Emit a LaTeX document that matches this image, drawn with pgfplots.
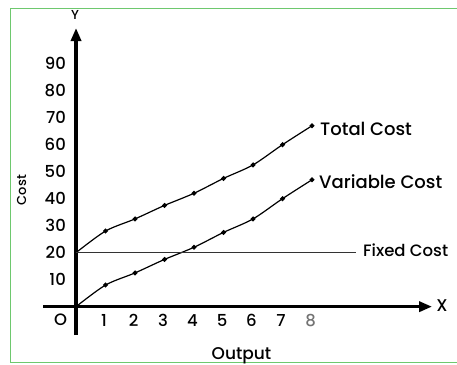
\documentclass[border=0pt]{standalone}
\usepackage{fontspec}
\setmainfont{Poppins}[UprightFont={* Medium}]
\usepackage{pgfplots}
\usepackage{pgfplotstable}
\pgfplotsset{compat=1.18}
\usetikzlibrary{arrows.meta}

\definecolor{framegreen}{RGB}{110,200,110}

% output, total cost, variable cost
\pgfplotstableread{
x  tc   vc
0  20   0
1  28   8
2  32.5 12.5
3  37.5 17.5
4  42   22
5  47.5 27.5
6  52.5 32.5
7  60   40
8  67   47
}\costs

\begin{document}
\begin{tikzpicture}
  % page frame
  \path[use as bounding box] (0pt,0pt) rectangle (457pt,-364pt);
  \begin{scope}
    \clip (0pt,0pt) rectangle (457pt,-364pt);
    \draw[framegreen, line width=1.5pt] (470pt,-8.5pt) -- (10.5pt,-8.5pt) -- (10.5pt,-362.5pt) -- (470pt,-362.5pt);
  \end{scope}

  \begin{axis}[
    at={(43pt,-335pt)}, anchor=south west,
    scale only axis, width=389.1pt, height=307pt,
    xmin=-1.12, xmax=12.07, ymin=-10.5, ymax=103.2,
    axis lines=middle, clip=false,
    axis line style={line width=3.3pt},
    every inner x axis line/.append style={line width=3.3pt, -{Triangle[length=13pt,width=10pt]}},
    every inner y axis line/.append style={line width=3.3pt, -{Triangle[length=13pt,width=10pt]}},
    xtick={1,...,8}, ytick={10,20,...,90},
    xticklabels={1,2,3,4,5,6,7,{\color{black!55}8}},
    /pgf/number format/assume math mode=true,
    major tick length=0pt,
    tick label style={font=\fontsize{16.5pt}{18pt}\selectfont, inner sep=0pt},
    xticklabel style={anchor=base, yshift=-20pt, xshift=-1.5pt},
    yticklabel style={anchor=east, xshift=-10pt},
  ]
    \addplot[black, line width=1.2pt, smooth, mark=*, mark size=1.8pt, mark indices={2,...,9}] table[x=x, y=tc] {\costs};
    \addplot[black, line width=1.2pt, smooth, mark=*, mark size=1.8pt, mark indices={2,...,9}] table[x=x, y=vc] {\costs};
    \addplot[black!80, line width=1.2pt] coordinates {(0,20) (9.5,20)};
  \end{axis}

  % curve labels
  \node[anchor=base west, inner sep=0pt, font=\fontsize{18pt}{20pt}\selectfont] at (320pt,-135pt) {Total Cost};
  \node[anchor=base west, inner sep=0pt, font=\fontsize{18pt}{20pt}\selectfont] at (319pt,-188.3pt) {Variable Cost};
  \node[anchor=base west, inner sep=0pt, font=\fontsize{16.5pt}{18pt}\selectfont] at (363pt,-256.7pt) {Fixed Cost};
  % axis titles
  \node[anchor=base, inner sep=0pt, font=\fontsize{17pt}{19pt}\selectfont] at (241.5pt,-359.5pt) {Output};
  \node[anchor=base, inner sep=0pt, rotate=90, font=\fontsize{13pt}{15pt}\selectfont] at (26pt,-190pt) {Cost};
  \node[anchor=base, inner sep=0pt, font=\fontsize{17pt}{19pt}\selectfont] at (442pt,-311.7pt) {X};
  \node[anchor=base, inner sep=0pt, font=\fontsize{13pt}{15pt}\selectfont] at (75pt,-19pt) {Y};
  \node[anchor=base, inner sep=0pt, font=\fontsize{16.5pt}{18pt}\selectfont] at (60.5pt,-325pt) {O};
\end{tikzpicture}
\end{document}
